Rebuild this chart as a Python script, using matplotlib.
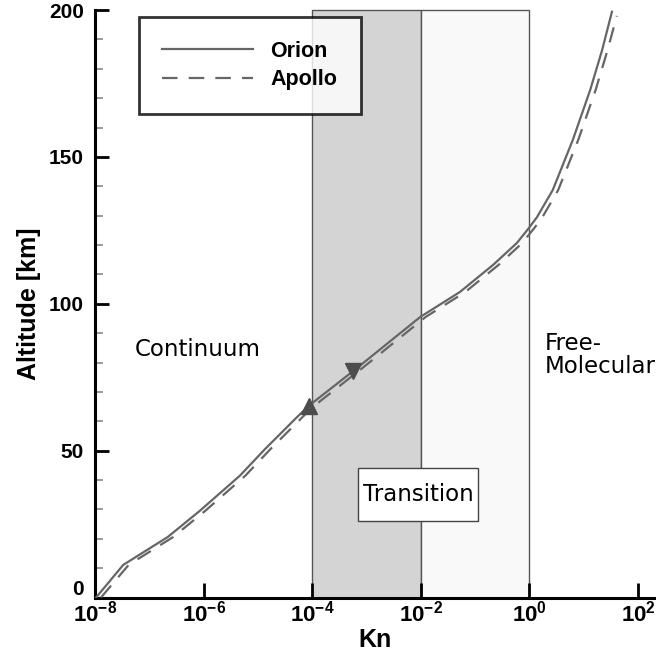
import numpy as np
import matplotlib
matplotlib.use("Agg")
import matplotlib.pyplot as plt
from matplotlib.patches import Rectangle
from matplotlib.ticker import FixedLocator, FuncFormatter, MultipleLocator

plt.rcParams['font.family'] = ['Liberation Sans', 'DejaVu Sans']
plt.rcParams['mathtext.fontset'] = 'custom'
plt.rcParams['mathtext.rm'] = 'Liberation Sans:bold'
plt.rcParams['mathtext.it'] = 'Liberation Sans:bold'
plt.rcParams['mathtext.bf'] = 'Liberation Sans:bold'
plt.rcParams['axes.unicode_minus'] = False

# trajectories, log10(Kn) vs altitude in km
log_kn_orion = [-7.98, -7.48, -6.66, -6.07, -5.33, -4.87, -4.28, -4.06, -3.21,
                -2.01, -1.28, -0.67, -0.23, 0.0, 0.14, 0.43, 0.80, 1.12,
                1.34, 1.52]
alt_orion = [0, 11.1, 20.6, 29.5, 41.5, 50.5, 61.4, 65.3, 77.6,
             95.5, 104.0, 113.2, 120.7, 126.0, 129.5, 138.7, 155.8, 172.8,
             186.4, 199.4]

log_kn_apollo = [-7.89, -7.38, -6.56, -5.97, -5.23, -4.77, -4.18, -3.96, -3.11,
                 -1.91, -1.18, -0.57, -0.13, 0.10, 0.24, 0.53, 0.90, 1.22,
                 1.44, 1.61]
alt_apollo = [0, 11.1, 20.6, 29.5, 41.5, 50.5, 61.4, 65.3, 77.6,
              95.5, 104.0, 113.2, 120.7, 126.0, 129.5, 138.7, 155.8, 172.8,
              186.4, 198.0]

# flow regime boundaries (Kn)
transition_lo = 1e-4
transition_mid = 1e-2
transition_hi = 1e0

# triangle markers along Orion curve
up_marker = (10**-4.06, 65.3)
down_marker = (10**-3.25, 77.1)

line_col = '#666666'

fig = plt.figure(figsize=(6.56, 6.57), dpi=100)
ax = fig.add_axes([95/656, 59.5/657, 561/656, 587.5/657])

ax.set_xscale('log')
ax.set_xlim(1e-8, 10**(561/54.3 - 8))
ax.set_ylim(0, 200)

# shaded regime bands
ax.add_patch(Rectangle((transition_lo, 0), transition_mid - transition_lo, 200,
                       facecolor='#d4d4d4', edgecolor='#555555', lw=1.0,
                       clip_on=False, zorder=0))
ax.add_patch(Rectangle((transition_mid, 0), transition_hi - transition_mid, 200,
                       facecolor='#f9f9f9', edgecolor='#555555', lw=1.0,
                       clip_on=False, zorder=0))

ax.plot(10**np.array(log_kn_orion), alt_orion, color=line_col, lw=1.6,
        label='Orion', zorder=3)
ax.plot(10**np.array(log_kn_apollo), alt_apollo, color=line_col, lw=1.6,
        dashes=(7, 5), label='Apollo', zorder=3)

ax.plot(*up_marker, marker='^', ms=11, color='#4d4d4d', zorder=4)
ax.plot(*down_marker, marker='v', ms=11, color='#4d4d4d', zorder=4)

ax.text(10**-7.26, 84.3, 'Continuum', family='DejaVu Sans', fontsize=16.5,
        va='center', ha='left')
ax.text(10**0.29, 82.6, 'Free-\nMolecular', family='DejaVu Sans', fontsize=16.5,
        va='center', ha='left', linespacing=1.0)

# white box behind the transition label
ax.add_patch(Rectangle((0.4688, 0.1302), 0.2139, 0.0902, transform=ax.transAxes,
                       facecolor='white', edgecolor='#444444', lw=1.0, zorder=5))
ax.text(10**-2.05, 35.2, 'Transition', family='DejaVu Sans', fontsize=16.5,
        va='center', ha='center', zorder=6)

leg = ax.legend(loc='upper left', bbox_to_anchor=(0.078, 0.988),
                frameon=True, fancybox=False, handlelength=4.2,
                handletextpad=0.8, borderpad=1.1, labelspacing=0.35,
                borderaxespad=0,
                prop={'family': 'Liberation Sans', 'weight': 'bold', 'size': 15.5})
leg.get_frame().set_edgecolor('black')
leg.get_frame().set_linewidth(2)
leg.set_zorder(7)

for side in ['top', 'right']:
    ax.spines[side].set_visible(False)
for side in ['left', 'bottom']:
    ax.spines[side].set_linewidth(2.2)

ax.xaxis.set_major_locator(FixedLocator([1e-8, 1e-6, 1e-4, 1e-2, 1e0, 1e2]))
ax.xaxis.set_minor_locator(FixedLocator([]))
ax.xaxis.set_major_formatter(FuncFormatter(lambda v, p: r'$10^{%d}$' % round(np.log10(v))))
ax.yaxis.set_major_locator(MultipleLocator(50))
ax.yaxis.set_minor_locator(MultipleLocator(10))
# the "0" is written separately, a bit above the 10^-8 label
ax.yaxis.set_major_formatter(FuncFormatter(lambda v, p: '' if v == 0 else '%d' % v))

ax.tick_params(axis='x', which='major', direction='in', length=11, width=2,
               labelsize=16, pad=2)
ax.tick_params(axis='y', which='major', direction='in', length=10, width=2,
               labelsize=15, pad=8)
ax.tick_params(axis='y', which='minor', direction='in', length=6, width=1.2,
               color='#888888')
for lab in ax.get_yticklabels():
    lab.set_fontweight('bold')

ax.annotate('0', xy=(1e-8, 0), xytext=(-8, 6), textcoords='offset points',
            ha='right', va='center', fontsize=15, fontweight='bold',
            annotation_clip=False)

ax.set_xlabel('Kn', fontsize=18, fontweight='bold', labelpad=1)
ax.set_ylabel('Altitude [km]', fontsize=18, fontweight='bold', labelpad=6)

fig.savefig('out.png', dpi=100)
